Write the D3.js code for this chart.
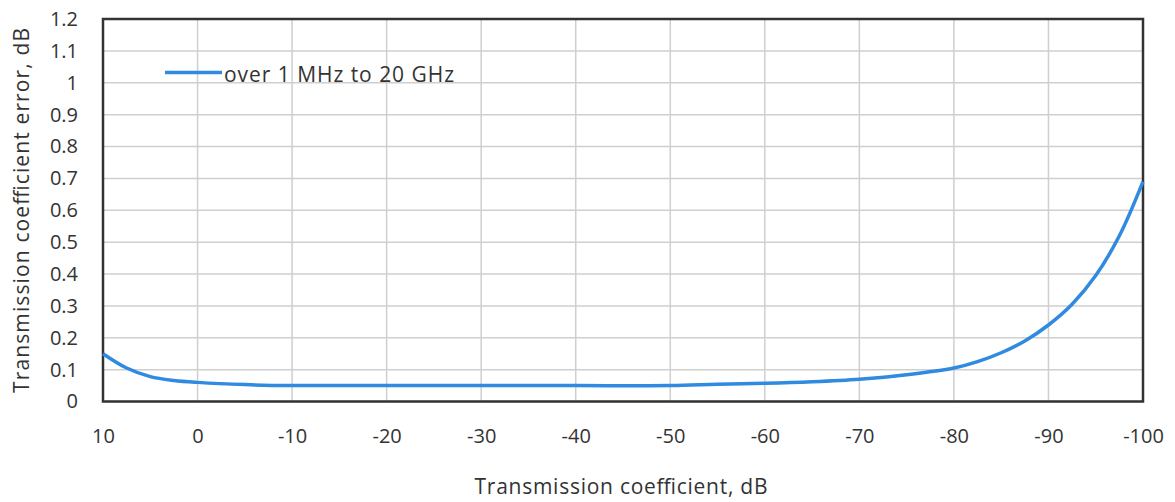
<!DOCTYPE html>
<html><head><meta charset="utf-8">
<script src="https://cdn.jsdelivr.net/npm/d3@7"></script>
<style>html,body{margin:0;padding:0;background:#fff;}</style>
</head><body>
<svg id="c" width="1175" height="502"></svg>
<script>
const xValues = [10, 7.5, 5, 2.5, 0, -5, -10, -20, -30, -40, -50, -55, -60, -65, -70, -75, -80, -82.5, -85, -87.5, -90, -92.5, -95, -97.5, -100];
const yValues = [0.15, 0.105, 0.078, 0.066, 0.06, 0.053, 0.05, 0.05, 0.05, 0.05, 0.05, 0.054, 0.057, 0.062, 0.07, 0.084, 0.105, 0.125, 0.153, 0.19, 0.24, 0.305, 0.395, 0.52, 0.69];
const xTicks = [10, 0, -10, -20, -30, -40, -50, -60, -70, -80, -90, -100];
const yTicks = [0, 0.1, 0.2, 0.3, 0.4, 0.5, 0.6, 0.7, 0.8, 0.9, 1, 1.1, 1.2];
const seriesName = "over 1 MHz to 20 GHz";
const xTitle = "Transmission coefficient, dB";
const yTitle = "Transmission coefficient error, dB";

const L = 103, R = 1143, T = 19, B = 401.5;
const svg = d3.select("#c");
const font = "'Open Sans', sans-serif";
const x = d3.scaleLinear().domain([10, -100]).range([L, R]);
const y = d3.scaleLinear().domain([0, 1.2]).range([B, T]);

const grid = svg.append("g");
grid.selectAll("line.v").data(xTicks).join("line")
  .attr("x1", d => x(d)).attr("x2", d => x(d)).attr("y1", T).attr("y2", B)
  .attr("stroke", "#cfcfcf").attr("stroke-width", 1.5);
grid.selectAll("line.h").data(yTicks).join("line")
  .attr("y1", d => y(d)).attr("y2", d => y(d)).attr("x1", L).attr("x2", R)
  .attr("stroke", "#cfcfcf").attr("stroke-width", 1.5);

const xAxis = svg.append("g").attr("transform", `translate(0,${B})`)
  .call(d3.axisBottom(x).tickValues(xTicks).tickSize(0).tickPadding(27).tickFormat(d => String(d)));
xAxis.select(".domain").remove();
xAxis.selectAll("text").attr("font-family", font).attr("font-size", 20).attr("fill", "#333");

const yAxis = svg.append("g").attr("transform", `translate(${L},0)`)
  .call(d3.axisLeft(y).tickValues(yTicks).tickSize(0).tickPadding(25).tickFormat(d => String(d)));
yAxis.select(".domain").remove();
yAxis.selectAll("text").attr("font-family", font).attr("font-size", 20).attr("fill", "#333");

svg.append("rect").attr("x", L).attr("y", T).attr("width", R - L).attr("height", B - T)
  .attr("fill", "none").attr("stroke", "#333").attr("stroke-width", 2.5);

const line = d3.line().x((d, i) => x(xValues[i])).y(d => y(d)).curve(d3.curveCatmullRom.alpha(0.5));
svg.append("path").datum(yValues).attr("d", line)
  .attr("fill", "none").attr("stroke", "#2f8ae0").attr("stroke-width", 3.5);

svg.append("line").attr("x1", 165).attr("x2", 222).attr("y1", 72.5).attr("y2", 72.5)
  .attr("stroke", "#2f8ae0").attr("stroke-width", 3.5);
svg.append("text").attr("x", 224).attr("y", 82).text(seriesName)
  .attr("font-family", font).attr("font-size", 21).attr("fill", "#333")
  .attr("textLength", 230).attr("lengthAdjust", "spacing");

svg.append("text").attr("x", 621).attr("y", 494).attr("text-anchor", "middle").text(xTitle)
  .attr("font-family", font).attr("font-size", 21).attr("fill", "#333")
  .attr("textLength", 293).attr("lengthAdjust", "spacing");
svg.append("text").attr("transform", `translate(29,210.5) rotate(-90)`).attr("text-anchor", "middle").text(yTitle)
  .attr("font-family", font).attr("font-size", 21).attr("fill", "#333")
  .attr("textLength", 365).attr("lengthAdjust", "spacing");
</script>
</body></html>
